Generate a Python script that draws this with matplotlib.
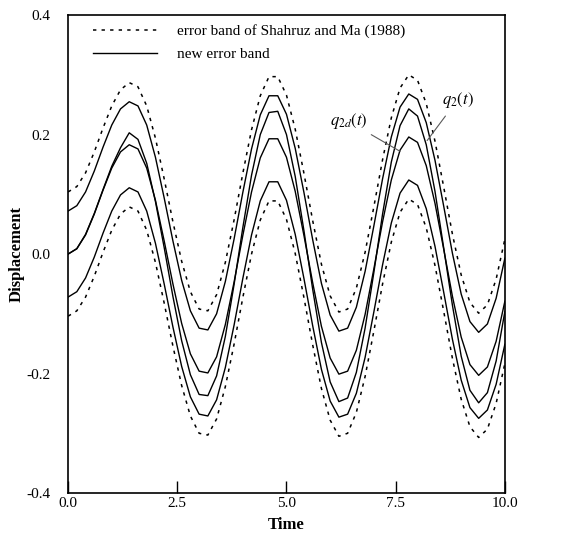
import matplotlib
matplotlib.use("Agg")
import matplotlib.pyplot as plt

plt.rcParams['font.family'] = ['Liberation Serif', 'DejaVu Serif']
plt.rcParams['mathtext.fontset'] = 'stix'

time = [0.0, 0.2, 0.4, 0.6, 0.8, 1.0, 1.2, 1.4, 1.6, 1.8, 2.0, 2.2, 2.4, 2.6, 2.8, 3.0,
        3.2, 3.4, 3.6, 3.8, 4.0, 4.2, 4.4, 4.6, 4.8, 5.0, 5.2, 5.4, 5.6, 5.8, 6.0,
        6.2, 6.4, 6.6, 6.8, 7.0, 7.2, 7.4, 7.6, 7.8, 8.0, 8.2, 8.4, 8.6, 8.8, 9.0,
        9.2, 9.4, 9.6, 9.8, 10.0]

q2d = [0.000, 0.009, 0.032, 0.067, 0.107, 0.144, 0.171, 0.183, 0.176, 0.144, 0.090,
       0.022, -0.050, -0.116, -0.167, -0.196, -0.199, -0.172, -0.118, -0.047, 0.031,
       0.104, 0.161, 0.193, 0.193, 0.162, 0.105, 0.031, -0.048, -0.121, -0.174,
       -0.201, -0.196, -0.161, -0.101, -0.025, 0.054, 0.124, 0.174, 0.196, 0.187,
       0.148, 0.085, 0.008, -0.071, -0.139, -0.185, -0.203, -0.189, -0.146, -0.079]

q2 = [0.000, 0.009, 0.033, 0.068, 0.108, 0.147, 0.178, 0.203, 0.192, 0.152, 0.088,
      0.011, -0.071, -0.145, -0.202, -0.235, -0.237, -0.204, -0.138, -0.051, 0.044,
      0.132, 0.200, 0.237, 0.239, 0.200, 0.130, 0.039, -0.059, -0.148, -0.214,
      -0.247, -0.241, -0.198, -0.124, -0.031, 0.067, 0.154, 0.215, 0.243, 0.231,
      0.183, 0.105, 0.010, -0.086, -0.171, -0.228, -0.249, -0.232, -0.179, -0.096]

new_upper = [0.072, 0.081, 0.104, 0.139, 0.179, 0.216, 0.243, 0.255, 0.248, 0.216, 0.162,
             0.094, 0.022, -0.044, -0.095, -0.124, -0.127, -0.100, -0.046, 0.025, 0.103,
             0.176, 0.233, 0.265, 0.265, 0.234, 0.177, 0.103, 0.024, -0.049, -0.102,
             -0.129, -0.124, -0.089, -0.029, 0.047, 0.126, 0.196, 0.246, 0.268, 0.259,
             0.220, 0.157, 0.080, 0.001, -0.067, -0.113, -0.131, -0.117, -0.074, -0.007]

new_lower = [-0.072, -0.063, -0.040, -0.005, 0.035, 0.072, 0.099, 0.111, 0.104, 0.072, 0.018,
             -0.050, -0.122, -0.188, -0.239, -0.268, -0.271, -0.244, -0.190, -0.119, -0.041,
             0.032, 0.089, 0.121, 0.121, 0.090, 0.033, -0.041, -0.120, -0.193, -0.246,
             -0.273, -0.268, -0.233, -0.173, -0.097, -0.018, 0.052, 0.102, 0.124, 0.115,
             0.076, 0.013, -0.064, -0.143, -0.211, -0.257, -0.275, -0.261, -0.218, -0.151]

old_upper = [0.104, 0.113, 0.136, 0.171, 0.211, 0.248, 0.275, 0.287, 0.280, 0.248, 0.194,
             0.126, 0.054, -0.012, -0.063, -0.092, -0.095, -0.068, -0.014, 0.057, 0.135,
             0.208, 0.265, 0.297, 0.297, 0.266, 0.209, 0.135, 0.056, -0.017, -0.070,
             -0.097, -0.092, -0.057, 0.003, 0.079, 0.158, 0.228, 0.278, 0.300, 0.291,
             0.252, 0.189, 0.112, 0.033, -0.035, -0.081, -0.099, -0.085, -0.042, 0.025]

old_lower = [-0.104, -0.095, -0.072, -0.037, 0.003, 0.040, 0.067, 0.079, 0.072, 0.040, -0.014,
             -0.082, -0.154, -0.220, -0.271, -0.300, -0.303, -0.276, -0.222, -0.151, -0.073,
             0.000, 0.057, 0.089, 0.089, 0.058, 0.001, -0.073, -0.152, -0.225, -0.278,
             -0.305, -0.300, -0.265, -0.205, -0.129, -0.050, 0.020, 0.070, 0.092, 0.083,
             0.044, -0.019, -0.096, -0.175, -0.243, -0.289, -0.307, -0.293, -0.250, -0.183]

xtick_vals = [0.0, 2.5, 5.0, 7.5, 10.0]
xtick_labels = ['0.0', '2.5', '5.0', '7.5', '10.0']
ytick_vals = [-0.4, -0.2, 0.0, 0.2, 0.4]
ytick_labels = ['-0.4', '-0.2', '0.0', '0.2', '0.4']

legend_old = 'error band of Shahruz and Ma (1988)'
legend_new = 'new error band'

fig = plt.figure(figsize=(5.77, 5.40), dpi=100)
ax = fig.add_axes([0.118, 0.087, 0.757, 0.885])

dash = (0, (2.2, 3.4))
ax.plot(time, old_upper, color='black', lw=1.1, linestyle=dash, label=legend_old)
ax.plot(time, old_lower, color='black', lw=1.1, linestyle=dash)
ax.plot(time, new_upper, color='black', lw=1.0, label=legend_new)
ax.plot(time, new_lower, color='black', lw=1.0)
ax.plot(time, q2d, color='black', lw=1.0)
ax.plot(time, q2, color='black', lw=1.0)

ax.set_xlim(0, 10)
ax.set_ylim(-0.4, 0.4)
ax.set_xticks(xtick_vals)
ax.set_xticklabels(xtick_labels)
ax.set_yticks(ytick_vals)
ax.set_yticklabels(ytick_labels)
ax.tick_params(axis='x', direction='in', length=9, width=1, labelsize=11, pad=3)
ax.tick_params(axis='y', length=0, labelsize=11, pad=13)
for s in ax.spines.values():
    s.set_linewidth(1.2)

ax.set_xlabel('Time', fontsize=12, fontweight='bold', labelpad=5)
ax.set_ylabel('Displacement', fontsize=12, fontweight='bold', labelpad=1)

leg = ax.legend(loc='upper left', bbox_to_anchor=(0.035, 1.0), frameon=False,
                fontsize=11, handlelength=4.2, handletextpad=1.3, labelspacing=0.6,
                borderaxespad=0.2)

# curve annotations
ax.annotate(r'$q_{2d}(t)$', xy=(7.6, 0.172), xytext=(6.85, 0.222),
            fontsize=12, ha='right', va='center',
            arrowprops=dict(arrowstyle='-', color='0.35', lw=0.8,
                            shrinkA=1, shrinkB=0))
ax.annotate(r'$q_2(t)$', xy=(8.22, 0.190), xytext=(8.55, 0.258),
            fontsize=12, ha='left', va='center',
            arrowprops=dict(arrowstyle='-', color='0.35', lw=0.8,
                            shrinkA=3, shrinkB=0))

fig.savefig('out.png', dpi=100)
